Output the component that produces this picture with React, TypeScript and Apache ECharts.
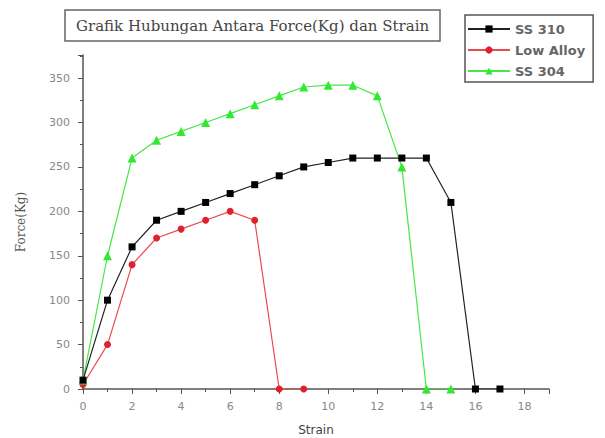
import React, { useEffect, useRef } from "react";
import * as echarts from "echarts";

const strainSS310 = [0, 1, 2, 3, 4, 5, 6, 7, 8, 9, 10, 11, 12, 13, 14, 15, 16, 17];
const forceSS310 = [10, 100, 160, 190, 200, 210, 220, 230, 240, 250, 255, 260, 260, 260, 260, 210, 0, 0];
const strainLowAlloy = [0, 1, 2, 3, 4, 5, 6, 7, 8, 9];
const forceLowAlloy = [5, 50, 140, 170, 180, 190, 200, 190, 0, 0];
const strainSS304 = [0, 1, 2, 3, 4, 5, 6, 7, 8, 9, 10, 11, 12, 13, 14, 15];
const forceSS304 = [10, 150, 260, 280, 290, 300, 310, 320, 330, 340, 342, 342, 330, 250, 0, 0];

const pairs = (xs: number[], ys: number[]) => xs.map((x, i) => [x, ys[i]]);

export default function App() {
  const ref = useRef<HTMLDivElement>(null);
  useEffect(() => {
    if (!ref.current) return;
    const chart = echarts.init(ref.current, null, { renderer: "svg" });
    const axisCol = "#555";
    chart.setOption({
      animation: false,
      backgroundColor: "#fff",
      title: {
        text: "Grafik Hubungan Antara Force(Kg) dan Strain",
        left: 65,
        top: 10,
        padding: [7, 11, 7, 11],
        borderColor: "#666",
        borderWidth: 1.5,
        textStyle: { fontFamily: "DejaVu Serif", fontSize: 15, fontWeight: "normal", color: "#444", lineHeight: 17 },
      },
      legend: {
        orient: "vertical",
        left: 465,
        top: 15,
        width: 134,
        padding: [7, 8, 4, 2],
        itemGap: 7,
        itemWidth: 42,
        itemHeight: 9,
        borderColor: "#555",
        borderWidth: 1.5,
        textStyle: { fontFamily: "DejaVu Sans", fontSize: 13, fontWeight: "bold", color: "#666", lineHeight: 14 },
        data: ["SS 310", "Low Alloy", "SS 304"],
      },
      grid: { left: 83, right: 56, top: 55, bottom: 49, containLabel: false, outerBoundsMode: "none" },
      xAxis: {
        type: "value",
        min: 0,
        max: 19,
        interval: 2,
        name: "Strain",
        nameLocation: "middle",
        nameGap: 34,
        nameTextStyle: { fontFamily: "DejaVu Sans", fontSize: 12, color: "#444", lineHeight: 13 },
        axisLine: { show: true, onZero: false, lineStyle: { color: axisCol, width: 1.5 } },
        axisTick: { show: true, inside: false, length: 5, lineStyle: { color: axisCol } },
        minorTick: { show: true, splitNumber: 2, length: 3, lineStyle: { color: axisCol } },
        axisLabel: {
          fontFamily: "DejaVu Sans",
          fontSize: 11,
          color: "#888",
          margin: 12,
          formatter: (v: number) => (v > 18 ? "" : String(v)),
        },
        splitLine: { show: false },
      },
      yAxis: {
        type: "value",
        min: 0,
        max: 376,
        interval: 50,
        name: "Force(Kg)",
        nameLocation: "middle",
        nameGap: 56,
        nameTextStyle: { fontFamily: "DejaVu Serif", fontSize: 12, color: "#555" },
        axisLine: { show: true, lineStyle: { color: axisCol, width: 1.5 } },
        axisTick: { show: true, inside: false, length: 5, lineStyle: { color: axisCol } },
        minorTick: { show: true, splitNumber: 2, length: 3, lineStyle: { color: axisCol } },
        axisLabel: {
          fontFamily: "DejaVu Sans",
          fontSize: 11,
          color: "#888",
          margin: 13,
          formatter: (v: number) => (v > 350 ? "" : String(v)),
        },
        splitLine: { show: false },
      },
      series: [
        {
          name: "SS 310",
          type: "line",
          data: pairs(strainSS310, forceSS310),
          symbol: "rect",
          symbolSize: 7,
          color: "#000",
          lineStyle: { width: 1.2, color: "#222" },
          itemStyle: { color: "#000" },
          z: 3,
        },
        {
          name: "Low Alloy",
          type: "line",
          data: pairs(strainLowAlloy, forceLowAlloy),
          symbol: "circle",
          symbolSize: 7,
          color: "#e0202e",
          lineStyle: { width: 1.2, color: "#e84a50" },
          itemStyle: { color: "#e0202e" },
          z: 2,
        },
        {
          name: "SS 304",
          type: "line",
          data: pairs(strainSS304, forceSS304),
          symbol: "triangle",
          symbolSize: 9,
          color: "#33e833",
          lineStyle: { width: 1.2, color: "#44e844" },
          itemStyle: { color: "#33e833" },
          z: 2,
        },
      ],
    });
    return () => chart.dispose();
  }, []);
  return <div ref={ref} style={{ width: 605, height: 438, position: "fixed", left: 0, top: 0 }} />;
}
